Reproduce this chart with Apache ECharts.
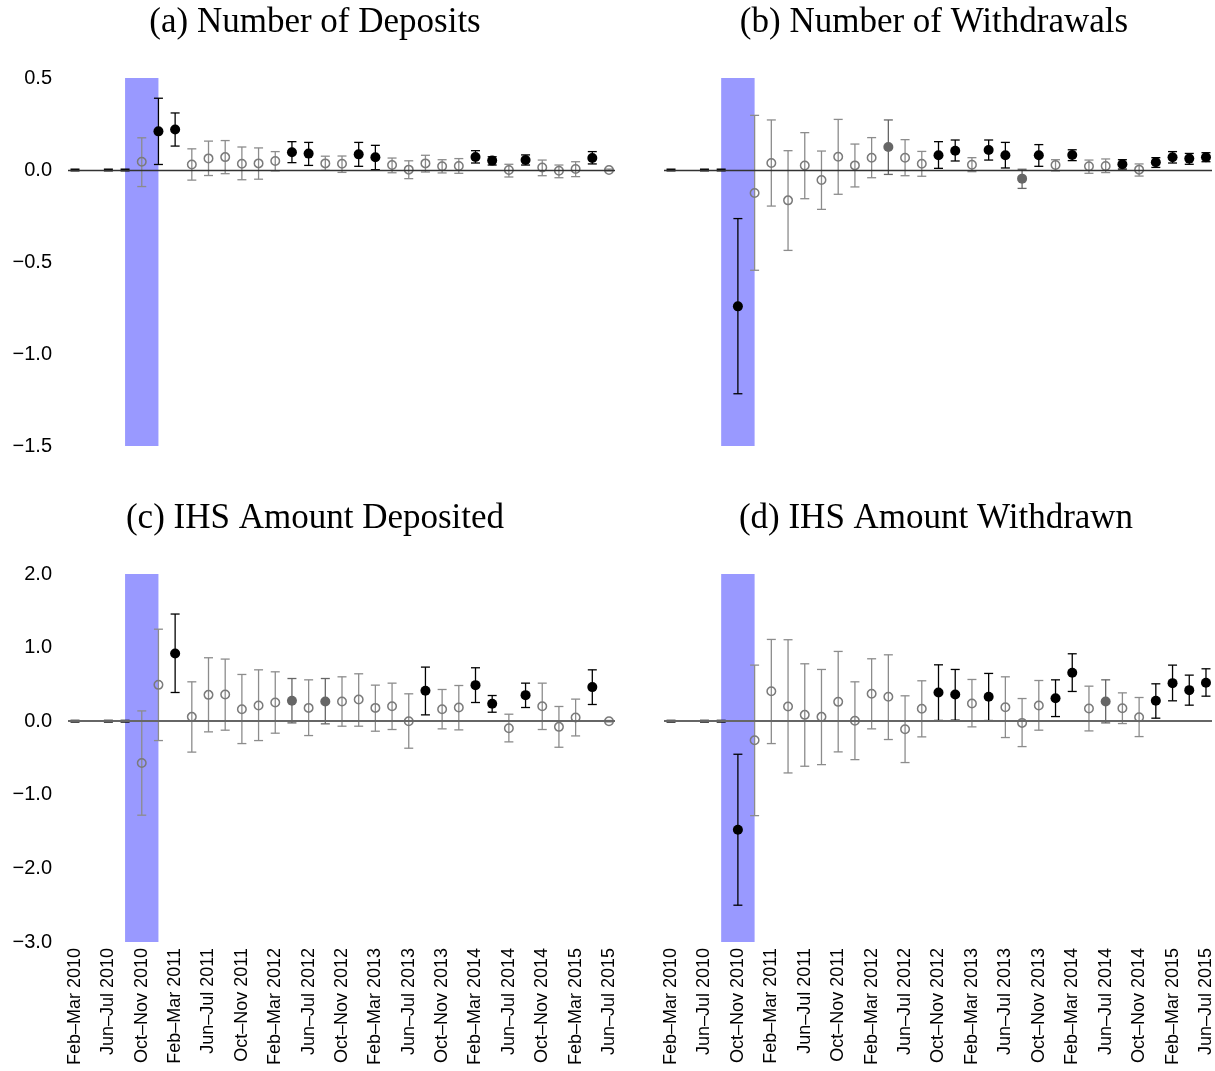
<!DOCTYPE html>
<html>
<head>
<meta charset="utf-8">
<script src="https://cdn.jsdelivr.net/npm/echarts@6/dist/echarts.min.js"></script>
<style>
html,body{margin:0;padding:0;background:#fff;}
#chart{width:1215px;height:1071px;}
</style>
</head>
<body>
<div id="chart"></div>
<script>
// Bimonthly periods (33), labelled every other period
const periods = [
  'Feb–Mar 2010','Apr–May 2010','Jun–Jul 2010','Aug–Sep 2010','Oct–Nov 2010','Dec–Jan 2010',
  'Feb–Mar 2011','Apr–May 2011','Jun–Jul 2011','Aug–Sep 2011','Oct–Nov 2011','Dec–Jan 2011',
  'Feb–Mar 2012','Apr–May 2012','Jun–Jul 2012','Aug–Sep 2012','Oct–Nov 2012','Dec–Jan 2012',
  'Feb–Mar 2013','Apr–May 2013','Jun–Jul 2013','Aug–Sep 2013','Oct–Nov 2013','Dec–Jan 2013',
  'Feb–Mar 2014','Apr–May 2014','Jun–Jul 2014','Aug–Sep 2014','Oct–Nov 2014','Dec–Jan 2014',
  'Feb–Mar 2015','Apr–May 2015','Jun–Jul 2015'
];
const tickIdx = [0,2,4,6,8,10,12,14,16,18,20,22,24,26,28,30,32];
const bandFrom = 3, bandTo = 5;

const titles = ['(a) Number of Deposits','(b) Number of Withdrawals','(c) IHS Amount Deposited','(d) IHS Amount Withdrawn'];

// sig codes: -1 = reference period (0), 0 = not significant (open), 1 = weakly significant (grey), 2 = significant (black)
// ---------- (a) Number of Deposits ----------
const depEst = [0,null,0,0, 0.045,0.21,0.22,0.03,0.063,0.07,0.034,0.036,0.049,0.096,0.089,0.036,0.034,0.085,0.069,0.027,0.002,0.036,0.02,0.022,0.071,0.051,0.0,0.054,0.014,-0.004,0.005,0.065,0.0];
const depLo  = [0,null,0,0, -0.09,0.03,0.13,-0.055,-0.03,-0.02,-0.053,-0.05,-0.005,0.04,0.025,-0.002,-0.013,0.02,0.002,-0.015,-0.047,-0.011,-0.016,-0.018,0.038,0.027,-0.038,0.027,-0.031,-0.042,-0.036,0.033,-0.005];
const depHi  = [0,null,0,0, 0.175,0.39,0.31,0.115,0.157,0.16,0.125,0.12,0.10,0.154,0.15,0.075,0.076,0.15,0.134,0.065,0.05,0.08,0.056,0.062,0.105,0.072,0.031,0.082,0.054,0.027,0.045,0.10,0.005];
const depSig = [-1,null,-1,-1, 0,2,2,0,0,0,0,0,0,2,2,0,0,2,2,0,0,0,0,0,2,2,0,2,0,0,0,2,0];

// ---------- (b) Number of Withdrawals ----------
const wdrEst = [0,null,0,0, -0.741,-0.125,0.038,-0.165,0.024,-0.054,0.072,0.025,0.067,0.125,0.067,0.034,0.08,0.105,0.029,0.109,0.08,-0.047,0.08,0.027,0.082,0.02,0.022,0.031,0.002,0.042,0.069,0.062,0.069];
const wdrLo  = [0,null,0,0, -1.216,-0.545,-0.196,-0.437,-0.156,-0.214,-0.132,-0.092,-0.042,-0.024,-0.031,-0.034,0.009,0.049,-0.009,0.054,0.011,-0.10,0.02,-0.005,0.051,-0.018,-0.014,0.005,-0.033,0.014,0.038,0.031,0.045];
const wdrHi  = [0,null,0,0, -0.264,0.297,0.272,0.105,0.203,0.103,0.275,0.141,0.176,0.272,0.165,0.101,0.154,0.163,0.067,0.163,0.15,0.004,0.138,0.056,0.11,0.054,0.06,0.056,0.033,0.067,0.10,0.09,0.094];
const wdrSig = [-1,null,-1,-1, 2,0,0,0,0,0,0,0,0,1,0,0,2,2,0,2,2,1,2,0,2,0,0,2,0,2,2,2,2];

// ---------- (c) IHS Amount Deposited ----------
const ihsDepEst = [0,null,0,0, -0.567,0.494,0.92,0.059,0.358,0.363,0.163,0.213,0.254,0.277,0.181,0.268,0.268,0.295,0.181,0.204,0.0,0.413,0.163,0.186,0.49,0.236,-0.095,0.354,0.204,-0.077,0.05,0.463,0.0];
const ihsDepLo  = [0,null,0,0, -1.277,-0.263,0.39,-0.42,-0.145,-0.122,-0.304,-0.263,-0.163,-0.023,-0.195,-0.036,-0.068,-0.068,-0.136,-0.113,-0.367,0.086,-0.104,-0.118,0.254,0.122,-0.281,0.186,-0.113,-0.354,-0.2,0.227,-0.01];
const ihsDepHi  = [0,null,0,0, 0.14,1.25,1.456,0.535,0.862,0.844,0.635,0.698,0.671,0.58,0.562,0.58,0.603,0.644,0.49,0.517,0.372,0.735,0.431,0.485,0.726,0.349,0.095,0.517,0.517,0.2,0.3,0.698,0.01];
const ihsDepSig = [-1,null,-1,-1, 0,0,2,0,0,0,0,0,0,1,0,1,0,0,0,0,0,2,0,0,2,2,0,2,0,0,0,2,0];

// ---------- (d) IHS Amount Withdrawn ----------
const ihsWdrEst = [0,null,0,0, -1.474,-0.258,0.408,0.2,0.086,0.059,0.263,0.005,0.372,0.331,-0.109,0.168,0.39,0.363,0.24,0.331,0.19,-0.023,0.213,0.313,0.658,0.172,0.268,0.177,0.054,0.277,0.517,0.422,0.522];
const ihsWdrLo  = [0,null,0,0, -2.5,-1.283,-0.304,-0.703,-0.612,-0.59,-0.417,-0.522,-0.104,-0.249,-0.562,-0.213,0.01,0.014,-0.077,0.009,-0.222,-0.345,-0.122,0.063,0.404,-0.132,-0.023,-0.032,-0.209,0.041,0.277,0.218,0.34];
const ihsWdrHi  = [0,null,0,0, -0.449,0.762,1.111,1.107,0.78,0.703,0.948,0.535,0.848,0.902,0.345,0.549,0.766,0.703,0.567,0.649,0.603,0.308,0.553,0.562,0.916,0.476,0.562,0.385,0.322,0.508,0.762,0.626,0.712];
const ihsWdrSig = [-1,null,-1,-1, 2,0,0,0,0,0,0,0,0,0,0,0,2,2,0,2,0,0,0,2,2,0,1,0,0,2,2,2,2];

const yTicksTop = {min:-1.5, max:0.5, interval:0.5};
const yTicksBot = {min:-3, max:2, interval:1};

const panels = [
  {est:depEst, lo:depLo, hi:depHi, sig:depSig, y:yTicksTop},
  {est:wdrEst, lo:wdrLo, hi:wdrHi, sig:wdrSig, y:yTicksTop},
  {est:ihsDepEst, lo:ihsDepLo, hi:ihsDepHi, sig:ihsDepSig, y:yTicksBot},
  {est:ihsWdrEst, lo:ihsWdrLo, hi:ihsWdrHi, sig:ihsWdrSig, y:yTicksBot}
];

// ---------- layout ----------
const gridPos = [
  {left:68, top:78, width:547, height:368},
  {left:664, top:78, width:548, height:368},
  {left:68, top:574, width:547, height:368},
  {left:664, top:574, width:548, height:368}
];
const titlePos = [[315,23],[934,23],[315,519],[936,519]];
const SANS = '"Liberation Sans", Arial, Helvetica, sans-serif';
const SERIF = '"Liberation Serif", "DejaVu Serif", serif';

const barColor = s => s === 2 ? '#000' : (s === 1 ? '#666' : '#8c8c8c');

function renderErr(params, api) {
  const x = api.value(0), lo = api.value(1), hi = api.value(2), s = api.value(3);
  const cap = 4.5;
  if (s === -1) {
    const p = api.coord([x, 0]);
    return {type:'line', shape:{x1:p[0]-4.5, y1:p[1], x2:p[0]+4.5, y2:p[1]}, style:{stroke:'#000', lineWidth:3}};
  }
  const a = api.coord([x, lo]), b = api.coord([x, hi]);
  const c = barColor(s);
  const st = {stroke:c, lineWidth:1.3};
  return {type:'group', children:[
    {type:'line', shape:{x1:a[0], y1:a[1], x2:b[0], y2:b[1]}, style:st},
    {type:'line', shape:{x1:a[0]-cap, y1:a[1], x2:a[0]+cap, y2:a[1]}, style:st},
    {type:'line', shape:{x1:b[0]-cap, y1:b[1], x2:b[0]+cap, y2:b[1]}, style:st}
  ]};
}

const grid = [], xAxis = [], yAxis = [], series = [], graphic = [];
panels.forEach((p, i) => {
  grid.push(Object.assign({containLabel:false}, gridPos[i]));
  const bottom = i >= 2, left = (i % 2) === 0;
  xAxis.push({
    type:'value', gridIndex:i, min:-0.42, max:32.36,
    axisLine:{show:false}, axisTick:{show:false}, splitLine:{show:false},
    axisLabel:{
      show:bottom, rotate:90, margin:6, fontFamily:SANS, fontSize:18, color:'#000',
      customValues:tickIdx, formatter:v => periods[Math.round(v)]
    }
  });
  yAxis.push({
    type:'value', gridIndex:i, min:p.y.min, max:p.y.max, interval:p.y.interval,
    axisLine:{show:false}, axisTick:{show:false}, splitLine:{show:false},
    axisLabel:{show:left, margin:16, fontFamily:SANS, fontSize:20, color:'#000',
      formatter:v => v.toFixed(1).replace('-', '\u2212')}
  });
  const errData = [], ptData = [];
  p.est.forEach((e, k) => {
    if (e === null) return;
    errData.push([k, p.lo[k], p.hi[k], p.sig[k]]);
    if (p.sig[k] === -1) return;
    const s = p.sig[k];
    ptData.push({
      value:[k, e],
      symbolSize: s === 0 ? 8.5 : 10,
      itemStyle: s === 0
        ? {color:'rgba(0,0,0,0)', borderColor:'#7a7a7a', borderWidth:1.5, opacity:1}
        : {color: s === 2 ? '#000' : '#666', borderWidth:0, opacity:1}
    });
  });
  series.push({
    type:'custom', xAxisIndex:i, yAxisIndex:i, z:2, silent:true,
    renderItem:renderErr, data:errData,
    encode:{x:0, y:[1,2]},
    markArea:{silent:true, itemStyle:{color:'#9999ff', opacity:1}, data:[[{xAxis:bandFrom},{xAxis:bandTo}]]},
    markLine:{silent:true, symbol:'none', label:{show:false},
      lineStyle:{color: bottom ? '#666' : '#333', width: bottom ? 1.8 : 1.3, type:'solid', opacity:1},
      data:[{yAxis:0}]}
  });
  series.push({
    type:'scatter', xAxisIndex:i, yAxisIndex:i, z:4, silent:true,
    symbol:'circle', data:ptData, itemStyle:{opacity:1}
  });
  graphic.push({
    type:'text', x:titlePos[i][0], y:titlePos[i][1], z:10,
    style:{text:titles[i], font:'35px ' + SERIF, fill:'#000', textAlign:'center', textVerticalAlign:'middle'}
  });
});

const chart = echarts.init(document.getElementById('chart'), null, {renderer:'canvas'});
chart.setOption({
  animation:false, backgroundColor:'#fff',
  grid, xAxis, yAxis, series, graphic
});
</script>
</body>
</html>
